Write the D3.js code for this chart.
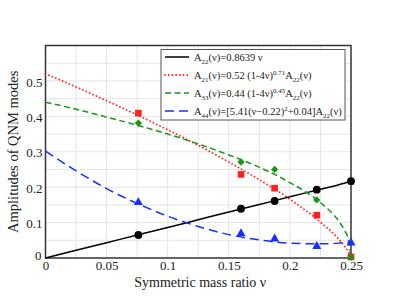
<!DOCTYPE html>
<html>
<head>
<meta charset="utf-8">
<script src="https://cdn.jsdelivr.net/npm/d3@7"></script>
<style>
  body { margin: 0; background: #fff; }
  svg { display: block; font-family: "Liberation Serif", "Times New Roman", serif; }
</style>
</head>
<body>
<div id="chart"></div>
<script>
// Simulation points (symmetric mass ratio)
const nuPoints = [0.076, 0.16, 0.1875, 0.222, 0.25];
const a22Points = [0.065, 0.139, 0.161, 0.193, 0.217];
const a21Points = [0.409, 0.236, 0.197, 0.121, 0.003];
const a33Points = [0.381, 0.271, 0.250, 0.164, 0.002];
const a44Points = [0.157, 0.069, 0.054, 0.033, 0.043];

// Fit curves
const curveNu = [0, 0.025, 0.05, 0.075, 0.1, 0.125, 0.15, 0.175, 0.2, 0.225, 0.24, 0.245, 0.248, 0.25];
const a22Curve = [0, 0.022, 0.043, 0.065, 0.086, 0.108, 0.130, 0.151, 0.173, 0.194, 0.207, 0.212, 0.214, 0.216];
const a21Curve = [0.52, 0.483, 0.444, 0.404, 0.362, 0.318, 0.271, 0.221, 0.166, 0.101, 0.053, 0.032, 0.016, 0];
const a33Curve = [0.44, 0.42, 0.398, 0.375, 0.350, 0.322, 0.291, 0.256, 0.213, 0.156, 0.104, 0.076, 0.050, 0];
const a44Curve = [0.302, 0.246, 0.196, 0.154, 0.118, 0.089, 0.066, 0.051, 0.042, 0.040, 0.042, 0.044, 0.044, 0.045];

const xTicks = [0, 0.05, 0.1, 0.15, 0.2, 0.25];
const yTicks = [0, 0.1, 0.2, 0.3, 0.4, 0.5];

const width = 395;
const height = 305;
const margin = { top: 45.5, right: 44, bottom: 47, left: 45.5 };

const svg = d3.select('#chart')
  .append('svg')
  .attr('width', width)
  .attr('height', height);

const x = d3.scaleLinear().domain([0, 0.25]).range([margin.left, width - margin.right]);
const y = d3.scaleLinear().domain([0, 0.6]).range([height - margin.bottom, margin.top]);

// Grid
const grid = svg.append('g').attr('stroke', '#e4e4e4').attr('stroke-width', 1);
grid.selectAll('line.gx')
  .data(d3.range(1, 10).map((i) => i * 0.025))
  .join('line')
  .attr('x1', (d) => x(d)).attr('x2', (d) => x(d))
  .attr('y1', y(0)).attr('y2', y(0.6));
grid.selectAll('line.gy')
  .data(d3.range(1, 12).map((i) => i * 0.05))
  .join('line')
  .attr('x1', x(0)).attr('x2', x(0.25))
  .attr('y1', (d) => y(d)).attr('y2', (d) => y(d));

// Axes
const xAxis = svg.append('g')
  .attr('transform', `translate(0,${y(0)})`)
  .call(d3.axisBottom(x).tickValues(xTicks).tickSize(0).tickPadding(3).tickFormat(d3.format('~g')));
const yAxis = svg.append('g')
  .attr('transform', `translate(${x(0)},0)`)
  .call(d3.axisLeft(y).tickValues(yTicks).tickSize(0).tickPadding(3).tickFormat(d3.format('~g')));
[xAxis, yAxis].forEach((ax) => {
  ax.select('.domain').remove();
  ax.selectAll('text')
    .attr('font-family', '"Liberation Serif", serif')
    .attr('font-size', 13)
    .attr('fill', '#222');
});
yAxis.selectAll('.tick text').attr('dy', '0.4em');
yAxis.selectAll('.tick').filter((d) => d === 0).select('text').attr('dy', '0.15em').attr('x', -4);

// Frame
svg.append('rect')
  .attr('x', x(0)).attr('y', y(0.6))
  .attr('width', x(0.25) - x(0)).attr('height', y(0) - y(0.6))
  .attr('fill', 'none')
  .attr('stroke', '#333')
  .attr('stroke-width', 1.5);

// Curves
const series = [
  { curve: a22Curve, pts: a22Points, color: '#000', dash: null, marker: 'circle', cap: 'butt' },
  { curve: a21Curve, pts: a21Points, color: '#ff2020', dash: '0.1,3.6', marker: 'square', cap: 'round' },
  { curve: a33Curve, pts: a33Points, color: '#1a961a', dash: '6,3.5', marker: 'diamond', cap: 'butt' },
  { curve: a44Curve, pts: a44Points, color: '#1530ff', dash: '9,5', marker: 'triangle', cap: 'butt' },
];

const line = d3.line()
  .x((d) => x(d[0]))
  .y((d) => y(d[1]))
  .curve(d3.curveMonotoneX);

const plot = svg.append('g');
series.forEach((s) => {
  plot.append('path')
    .datum(curveNu.map((n, i) => [n, s.curve[i]]))
    .attr('d', line)
    .attr('fill', 'none')
    .attr('stroke', s.color)
    .attr('stroke-width', s.cap === 'round' ? 1.8 : 1.5)
    .attr('stroke-linecap', s.cap)
    .attr('stroke-dasharray', s.dash);
});

const symbols = {
  circle: d3.symbol(d3.symbolCircle, 48),
  square: d3.symbol(d3.symbolSquare, 44),
  diamond: d3.symbol(d3.symbolDiamond2, 34),
  triangle: d3.symbol(d3.symbolTriangle, 36),
};
series.forEach((s) => {
  plot.selectAll(null)
    .data(nuPoints.map((n, i) => [n, s.pts[i]]))
    .join('path')
    .attr('transform', (d) => `translate(${x(d[0])},${y(d[1])})`)
    .attr('d', symbols[s.marker])
    .attr('fill', s.color);
});

// Legend
const legendItems = [
  { sub: '22', rest: [['(ν)=0.8639 ν', 0]] },
  { sub: '21', rest: [['(ν)=0.52 (1-4ν)', 0], ['0.71', 1], ['A', 0], ['22', -1], ['(ν)', 0]] },
  { sub: '33', rest: [['(ν)=0.44 (1-4ν)', 0], ['0.45', 1], ['A', 0], ['22', -1], ['(ν)', 0]] },
  { sub: '44', rest: [['(ν)=[5.41(ν−0.22)', 0], ['2', 1], ['+0.04]A', 0], ['22', -1], ['(ν)', 0]] },
];

const legend = svg.append('g');
legend.append('rect')
  .attr('x', 161).attr('y', 49.5)
  .attr('width', 184).attr('height', 70.5)
  .attr('fill', '#fff')
  .attr('stroke', '#555')
  .attr('stroke-width', 1);

legendItems.forEach((item, i) => {
  const s = series[i];
  const ly = 57 + i * 18;
  legend.append('line')
    .attr('x1', 165).attr('x2', 189)
    .attr('y1', ly).attr('y2', ly)
    .attr('stroke', s.color)
    .attr('stroke-width', s.cap === 'round' ? 1.8 : 1.5)
    .attr('stroke-linecap', s.cap)
    .attr('stroke-dasharray', s.dash);

  const t = legend.append('text')
    .attr('x', 194).attr('y', ly + 3.5)
    .attr('font-size', 10.5)
    .attr('fill', '#222');
  t.append('tspan').text('A');
  t.append('tspan').attr('font-size', 7).attr('dy', 3).text(item.sub);
  let shift = 3;
  item.rest.forEach(([txt, pos]) => {
    const target = pos === 1 ? -4 : pos === -1 ? 3 : 0;
    const small = pos !== 0;
    t.append('tspan')
      .attr('font-size', small ? 7 : 10.5)
      .attr('dy', target - shift)
      .text(txt);
    shift = target;
  });
});

// Axis titles
svg.append('text')
  .attr('x', (x(0) + x(0.25)) / 2 + 2)
  .attr('y', 287)
  .attr('text-anchor', 'middle')
  .attr('font-size', 14)
  .attr('fill', '#222')
  .text('Symmetric mass ratio ν');

svg.append('text')
  .attr('transform', `translate(18,${(y(0) + y(0.6)) / 2}) rotate(-90)`)
  .attr('text-anchor', 'middle')
  .attr('font-size', 14.5)
  .attr('fill', '#222')
  .text('Amplitudes of QNM modes');
</script>
</body>
</html>
